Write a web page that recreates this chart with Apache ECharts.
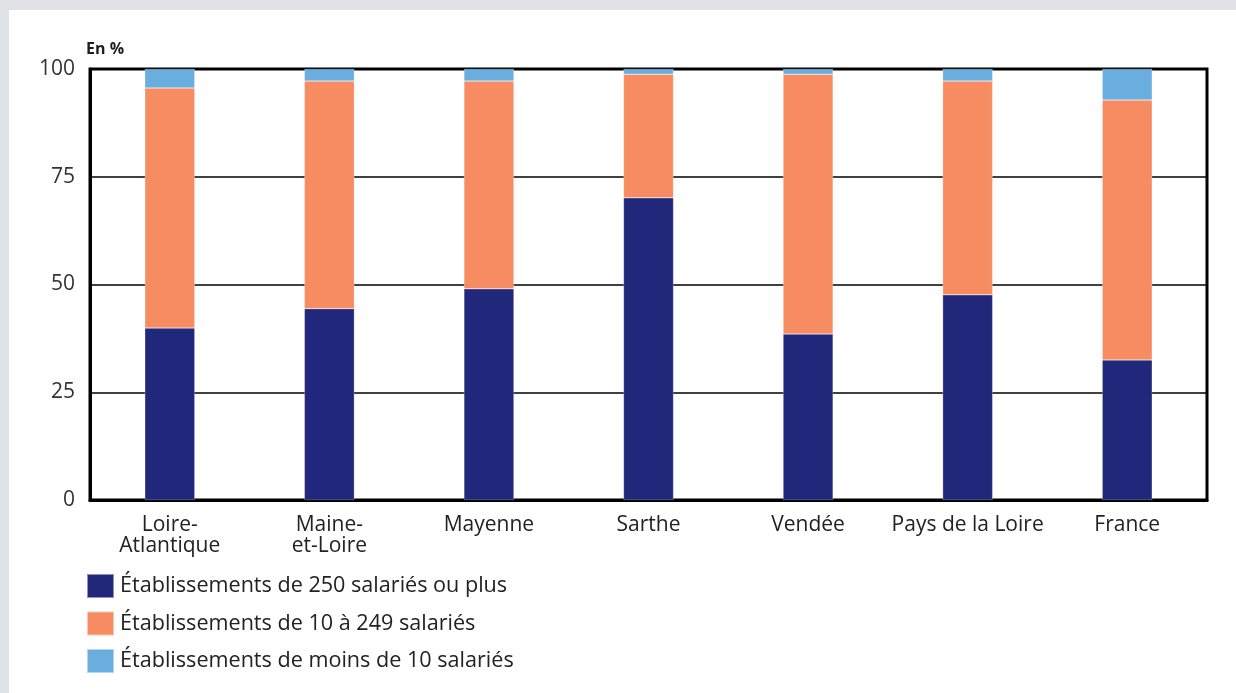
<!DOCTYPE html>
<html>
<head>
<meta charset="utf-8">
<script src="https://cdn.jsdelivr.net/npm/echarts@6/dist/echarts.min.js"></script>
<style>
html,body{margin:0;padding:0;background:#E1E2E4;width:1236px;height:693px;overflow:hidden;}
#panel{position:absolute;left:9px;top:10px;width:1227px;height:683px;background:#fff;}
#chart{position:absolute;left:0;top:0;width:1236px;height:693px;}
</style>
</head>
<body>
<div id="panel"></div>
<div id="chart"></div>
<script>
var categories = ['Loire-\nAtlantique', 'Maine-\net-Loire', 'Mayenne', 'Sarthe', 'Vendée', 'Pays de la Loire', 'France'];
var seriesNames = ['Établissements de 250 salariés ou plus', 'Établissements de 10 à 249 salariés', 'Établissements de moins de 10 salariés'];
var large = [39.9, 44.4, 49.0, 70.1, 38.5, 47.6, 32.5];
var medium = [55.7, 52.8, 48.2, 28.7, 60.3, 49.6, 60.3];
var small = [4.4, 2.8, 2.8, 1.2, 1.2, 2.8, 7.2];
var yTicks = [0, 25, 50, 75, 100];

var font = '"Open Sans", "Noto Sans", sans-serif';
var colors = ['#21277B', '#F78C63', '#6AADDF'];
var chart = echarts.init(document.getElementById('chart'), null, {renderer: 'canvas'});
var dataSets = [large, medium, small];
chart.setOption({
  animation: false,
  color: colors,
  textStyle: {fontFamily: font},
  title: {
    text: 'En %', left: 86, top: 41, padding: 0,
    textStyle: {fontSize: 16, fontWeight: 'bold', color: '#1e1e1e', fontFamily: font}
  },
  legend: {
    orient: 'vertical', left: 86, top: 573, padding: 0,
    itemWidth: 27, itemHeight: 24, itemGap: 11.5,
    icon: 'rect',
    textStyle: {fontSize: 21.6, lineHeight: 24, color: '#222', fontFamily: font, padding: [0, 0, 0, 1]},
    data: seriesNames
  },
  grid: {
    left: 90, right: 29, top: 69, bottom: 193,
    show: true, borderColor: '#000', borderWidth: 3, backgroundColor: 'transparent'
  },
  xAxis: {
    type: 'category',
    data: categories,
    axisLine: {show: true, lineStyle: {color: '#000', width: 3}},
    axisTick: {show: false},
    axisLabel: {fontSize: 21, color: '#222', margin: 15, lineHeight: 21, interval: 0, fontFamily: font}
  },
  yAxis: {
    type: 'value', min: 0, max: 100, interval: 25,
    axisLine: {show: true, lineStyle: {color: '#000', width: 3}},
    axisTick: {show: false},
    splitLine: {show: true, lineStyle: {color: '#000', width: 1.6}},
    axisLabel: {
      fontSize: 21, color: '#333', margin: 15, fontFamily: font,
      formatter: function (v) { return yTicks.indexOf(v) >= 0 ? String(v) : ''; }
    }
  },
  series: seriesNames.map(function (n, i) {
    return {
      name: n, type: 'bar', stack: 'total', barWidth: 50,
      data: dataSets[i],
      itemStyle: {color: colors[i], borderColor: 'rgba(255,255,255,0.5)', borderWidth: 0.5}
    };
  })
});
</script>
</body>
</html>
